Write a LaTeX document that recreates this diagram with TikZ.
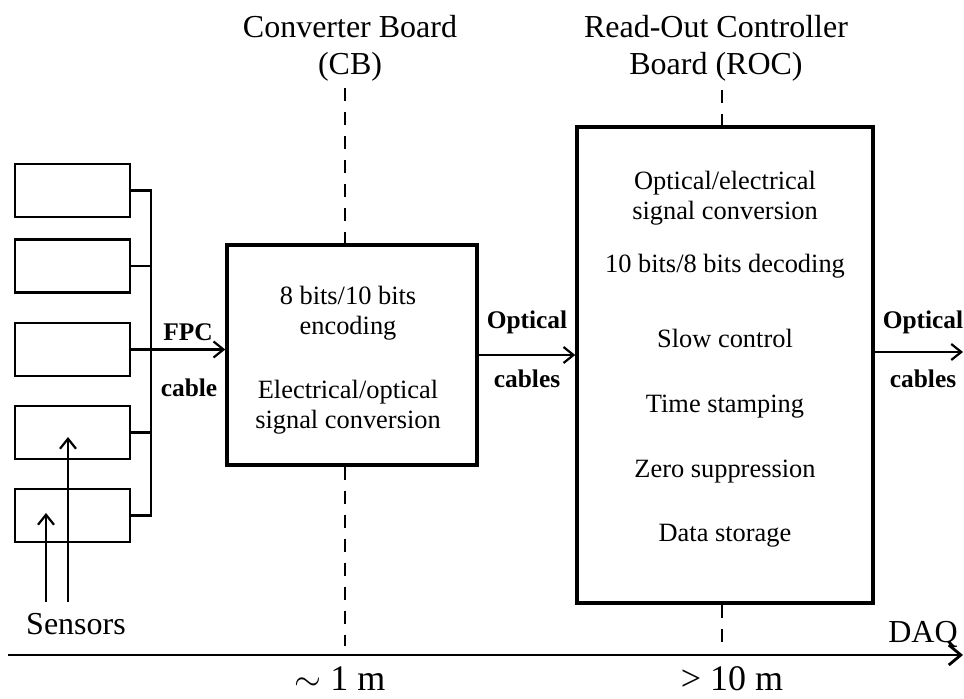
\documentclass[tikz,border=0pt]{standalone}
\usepackage{fontspec}
\setmainfont{Liberation Serif}
\usetikzlibrary{arrows.meta}

\begin{document}
\begin{tikzpicture}[>={Straight Barb[length=5pt,width=8pt]}, x=0.5pt, y=-0.5pt,
  sensorbox/.style={draw, line width=1.1pt, minimum width=57.5pt, minimum height=26.5pt, inner sep=0pt},
  board/.style={draw, line width=1.7pt, inner sep=0pt},
  wire/.style={line width=1.1pt},
  guide/.style={line width=1.4pt, dash pattern=on 6.5pt off 5.5pt},
  cablelabel/.style={font=\bfseries\fontsize{12.7}{15}\selectfont},
  boardtext/.style={align=center, inner sep=0pt, font=\fontsize{13.2}{15}\selectfont},
  boardtitle/.style={align=center, inner sep=0pt, font=\fontsize{16}{18.5}\selectfont},
  spanlabel/.style={anchor=base, inner sep=0pt, font=\fontsize{18}{21}\selectfont}]
  \useasboundingbox (0,0) rectangle (964,699);
  % sensors
  \foreach \i/\y in {1/190.5, 2/266, 3/349.5, 4/432.5, 5/515.5}
    \node[sensorbox] (s\i) at (72.5,\y) {};
  \node[anchor=base, font=\fontsize{16}{19}\selectfont] (sensors) at (76,635) {Sensors};
  \coordinate (in1) at (46,602);
  \coordinate (in2) at (68,602);
  \coordinate (hit1) at (46,513);
  \coordinate (hit2) at (68,437);
  \draw[wire,->] (in1) -- (hit1);
  \draw[wire,->] (in2) -- (hit2);
  % bus to the converter board
  \coordinate (busbot) at (151,515.5);
  \draw[wire] (s1.east) -| (busbot) -- (s5.east);
  \foreach \i in {2,4}
    \draw[wire] (s\i.east) -- (s\i.east -| busbot);
  % converter board
  \node[board, minimum width=125pt, minimum height=110pt] (cb) at (352,355) {};
  \node[boardtext, anchor=north] (cbtext) at (348,286)
    {8 bits/10 bits\\encoding\\[17pt]Electrical/optical\\signal conversion};
  \node[boardtitle] (cbtitle) at (350,48) {Converter Board\\(CB)};
  % read-out controller board
  \node[board, minimum width=148pt, minimum height=238pt] (roc) at (725,365) {};
  \node[boardtext, anchor=north] (roctext) at (725,171)
    {Optical/electrical\\signal conversion\\[11.5pt]10 bits/8 bits decoding\\[22.5pt]%
     Slow control\\[17.5pt]Time stamping\\[17.5pt]Zero suppression\\[17pt]Data storage};
  \node[boardtitle] (roctitle) at (716,48) {Read-Out Controller\\Board (ROC)};
  % cables
  \draw[wire,->] (s3.east) -- (s3.east -| cb.west);
  \node[cablelabel] (fpc) at (188,332) {FPC};
  \node[cablelabel] (fpccable) at (189,388) {cable};
  \draw[wire,->] (cb.east) -- (cb.east -| roc.west);
  \node[cablelabel] (opt1) at (527,322) {Optical};
  \node[cablelabel] (opt1cable) at (527,379) {cables};
  \coordinate (daqout) at (963,352);
  \draw[wire,->] (daqout -| roc.east) -- (daqout);
  \node[cablelabel] (opt2) at (923,322) {Optical};
  \node[cablelabel] (opt2cable) at (923,379) {cables};
  % distance axis
  \coordinate (axstart) at (8,655);
  \coordinate (axend) at (963,655);
  \draw[line width=1.4pt, -{Straight Barb[length=6pt,width=10pt]}] (axstart) -- (axend);
  \node[anchor=base, font=\fontsize{16}{19}\selectfont] (daq) at (923,643) {DAQ};
  \node[spanlabel] (near) at (340,690) {$\sim$ 1 m};
  \node[spanlabel] (far) at (732,690) {> 10 m};
  % dashed guides
  \coordinate (cbdash) at (345,88);
  \coordinate (cbfoot) at (345,646);
  \draw[guide] (cbdash) -- (cbdash |- cb.north);
  \draw[guide] (cbdash |- cb.south) -- (cbfoot);
  \coordinate (rocdash) at (722,90);
  \coordinate (rocfoot) at (722,646);
  \draw[guide] (rocdash) -- (rocdash |- roc.north);
  \draw[guide] (rocdash |- roc.south) -- (rocfoot);
\end{tikzpicture}
\end{document}
